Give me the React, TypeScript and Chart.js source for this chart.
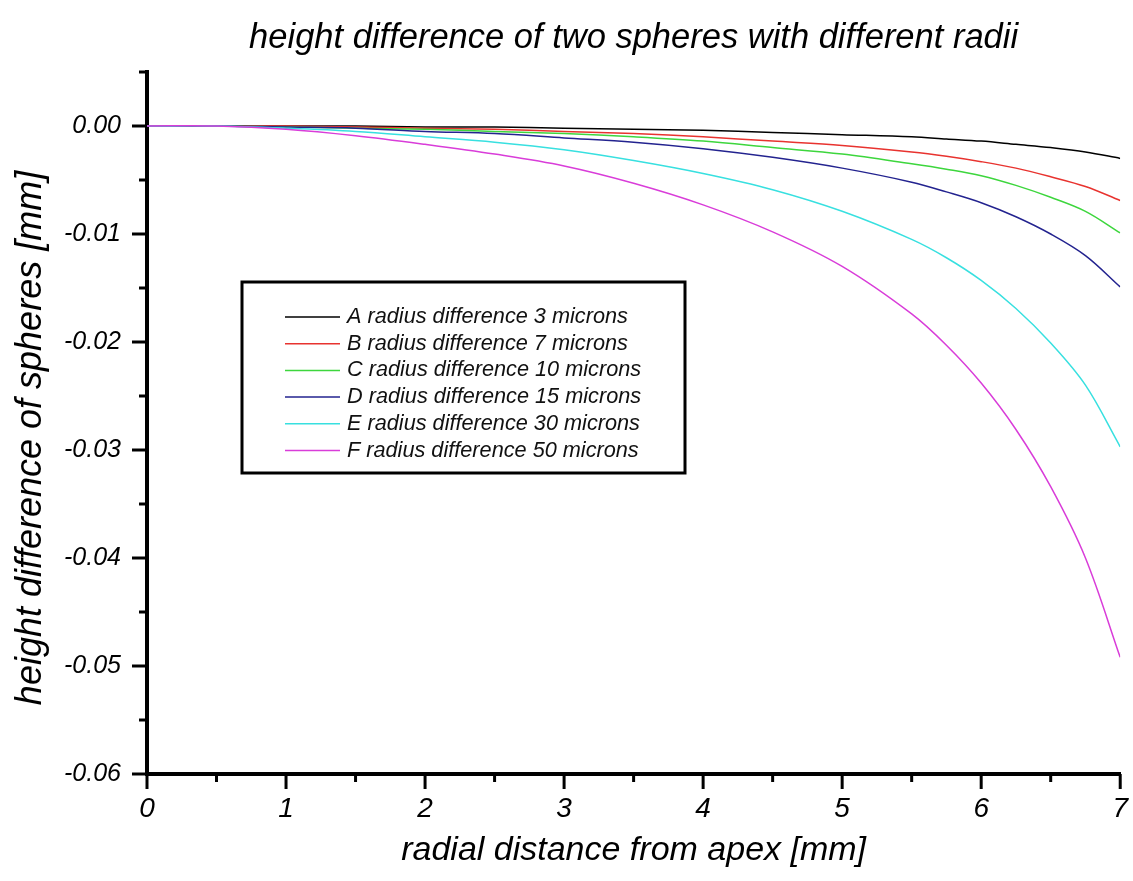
import React, { useEffect, useRef } from "react";
import { Chart, registerables } from "chart.js";

Chart.register(...registerables);

const CHART_TITLE = "height difference of two spheres with different radii";
const X_TITLE = "radial distance from apex [mm]";
const Y_TITLE = "height difference of spheres [mm]   ";

const X_VALUES = [0, 0.5, 1, 1.5, 2, 2.5, 3, 3.5, 4, 4.5, 5, 5.5, 5.75, 6, 6.25, 6.5, 6.75, 7];

const SERIES_LABELS = [
  "A radius difference 3 microns",
  "B radius difference 7 microns",
  "C radius difference 10 microns",
  "D radius difference 15 microns",
  "E radius difference 30 microns",
  "F radius difference 50 microns",
];

const SERIES_A = [0, 0, 0, 0, -0.0001, -0.0001, -0.0002, -0.0003, -0.0004, -0.0006, -0.0008, -0.001, -0.0012, -0.0014, -0.0017, -0.002, -0.0024, -0.003];
const SERIES_B = [0, 0, 0, -0.0001, -0.0002, -0.0003, -0.0005, -0.0007, -0.001, -0.0014, -0.0018, -0.0024, -0.0028, -0.0033, -0.0039, -0.0047, -0.0056, -0.0069];
const SERIES_C = [0, 0, -0.0001, -0.0002, -0.0003, -0.0005, -0.0007, -0.001, -0.0014, -0.002, -0.0026, -0.0035, -0.004, -0.0046, -0.0055, -0.0066, -0.0079, -0.0099];
const SERIES_D = [0, 0, -0.0001, -0.0002, -0.0005, -0.0007, -0.0011, -0.0015, -0.0021, -0.0029, -0.0039, -0.0052, -0.0061, -0.0071, -0.0084, -0.01, -0.012, -0.0149];
const SERIES_E = [0, 0, -0.0002, -0.0005, -0.001, -0.0015, -0.0022, -0.0032, -0.0044, -0.0059, -0.0079, -0.0105, -0.0122, -0.0143, -0.0169, -0.0201, -0.024, -0.0297];
const SERIES_F = [0, 0, -0.0003, -0.0009, -0.0017, -0.0026, -0.0037, -0.0053, -0.0073, -0.0098, -0.013, -0.0174, -0.0203, -0.0238, -0.0281, -0.0334, -0.04, -0.0492];

const SERIES = [SERIES_A, SERIES_B, SERIES_C, SERIES_D, SERIES_E, SERIES_F];
const COLORS = ["#000000", "#e8332f", "#3dd63d", "#23238f", "#38e0e0", "#d93dd9"];

const X_MIN = 0;
const X_MAX = 7;
const X_MINOR_STEP = 0.5;
const Y_MIN = -0.06;
const Y_MAX = 0.005;
const Y_MINOR_STEP = 0.005;

const FONT = "'Liberation Sans', Arial, Helvetica, sans-serif";

const tickPlugin = {
  id: "customTicks",
  afterDraw(chart: any) {
    const ctx = chart.ctx;
    const xs = chart.scales.x;
    const ys = chart.scales.y;
    const area = chart.chartArea;
    ctx.save();
    ctx.strokeStyle = "#000";
    ctx.lineWidth = 3;
    const nx = Math.round((X_MAX - X_MIN) / X_MINOR_STEP);
    for (let i = 0; i <= nx; i++) {
      const v = X_MIN + i * X_MINOR_STEP;
      const px = xs.getPixelForValue(v);
      const major = i % 2 === 0;
      ctx.beginPath();
      ctx.moveTo(px, area.bottom);
      ctx.lineTo(px, area.bottom + (major ? 15 : 8));
      ctx.stroke();
    }
    const ny = Math.round((Y_MAX - Y_MIN) / Y_MINOR_STEP);
    for (let i = 0; i <= ny; i++) {
      const v = Y_MIN + i * Y_MINOR_STEP;
      const py = ys.getPixelForValue(v);
      const major = i % 2 === 0;
      ctx.beginPath();
      ctx.moveTo(area.left, py);
      ctx.lineTo(area.left - (major ? 15 : 8), py);
      ctx.stroke();
    }
    ctx.restore();
  },
};

const legendPlugin = {
  id: "boxLegend",
  afterDraw(chart: any) {
    const ctx = chart.ctx;
    ctx.save();
    const bx = 242, by = 282, bw = 443, bh = 191;
    ctx.fillStyle = "#fff";
    ctx.fillRect(bx, by, bw, bh);
    ctx.strokeStyle = "#000";
    ctx.lineWidth = 3;
    ctx.strokeRect(bx, by, bw, bh);
    ctx.font = `italic 21.7px ${FONT}`;
    ctx.textBaseline = "middle";
    ctx.textAlign = "left";
    chart.data.datasets.forEach((ds: any, i: number) => {
      const y = 317 + i * 26.7;
      ctx.strokeStyle = ds.borderColor;
      ctx.lineWidth = 1.5;
      ctx.beginPath();
      ctx.moveTo(285, y);
      ctx.lineTo(340, y);
      ctx.stroke();
      ctx.fillStyle = "#111";
      ctx.fillText(ds.label, 347, y);
    });
    ctx.restore();
  },
};

export default function App() {
  const ref = useRef<HTMLCanvasElement | null>(null);
  useEffect(() => {
    if (!ref.current) return;
    const datasets = SERIES.map((s, i) => ({
      label: SERIES_LABELS[i],
      data: X_VALUES.map((x, j) => ({ x, y: s[j] })),
      borderColor: COLORS[i],
      backgroundColor: COLORS[i],
      borderWidth: 1.5,
      pointRadius: 0,
      fill: false,
      tension: 0.35,
      order: SERIES.length - i,
    }));
    const chart = new Chart(ref.current, {
      type: "line",
      data: { datasets },
      options: {
        responsive: false,
        animation: false,
        devicePixelRatio: 1,
        layout: { padding: { left: 0, right: 10, top: 0, bottom: 0 } },
        plugins: {
          legend: { display: false },
          tooltip: { enabled: false },
          title: {
            display: true,
            fullSize: false,
            text: CHART_TITLE,
            color: "#000",
            font: { family: FONT, size: 34.5, style: "italic", weight: "normal", lineHeight: 1.2 },
            padding: { top: 18, bottom: 12.6 },
          },
        },
        scales: {
          x: {
            type: "linear",
            min: X_MIN,
            max: X_MAX,
            afterFit: (s: any) => {
              s.height = 107;
            },
            border: { display: true, color: "#000", width: 4 },
            grid: { display: true, drawOnChartArea: false, drawTicks: true, tickLength: 13, color: "rgba(0,0,0,0)" },
            ticks: {
              stepSize: X_MINOR_STEP,
              autoSkip: false,
              maxRotation: 0,
              color: "#000",
              padding: 5,
              font: { family: FONT, size: 28, style: "italic" },
              callback: (v: any) => (Math.abs(v - Math.round(v)) < 1e-9 ? String(Math.round(v)) : ""),
            },
            title: {
              display: true,
              text: X_TITLE,
              color: "#000",
              font: { family: FONT, size: 34, style: "italic", lineHeight: 1.2 },
              padding: { top: 0, bottom: 10 },
            },
          },
          y: {
            type: "linear",
            min: Y_MIN,
            max: Y_MAX,
            afterFit: (s: any) => {
              s.width = 147;
            },
            border: { display: true, color: "#000", width: 4 },
            grid: { display: true, drawOnChartArea: false, drawTicks: true, tickLength: 13, color: "rgba(0,0,0,0)" },
            ticks: {
              stepSize: Y_MINOR_STEP,
              autoSkip: false,
              color: "#000",
              padding: 13,
              font: { family: FONT, size: 25, style: "italic" },
              callback: (v: any) => {
                const k = v * 100;
                if (Math.abs(k - Math.round(k)) > 1e-6) return "";
                const r = Math.round(k);
                return r === 0 ? "0.00" : (r / 100).toFixed(2);
              },
            },
            title: {
              display: true,
              text: Y_TITLE,
              color: "#000",
              font: { family: FONT, size: 36, style: "italic", lineHeight: 1.2 },
              padding: { top: 9, bottom: 0 },
            },
          },
        },
      },
      plugins: [tickPlugin, legendPlugin],
    });
    return () => chart.destroy();
  }, []);
  return (
    <div style={{ position: "fixed", left: 0, top: 0, width: 1133, height: 881, background: "#fff" }}>
      <canvas ref={ref} width={1133} height={881} />
    </div>
  );
}
